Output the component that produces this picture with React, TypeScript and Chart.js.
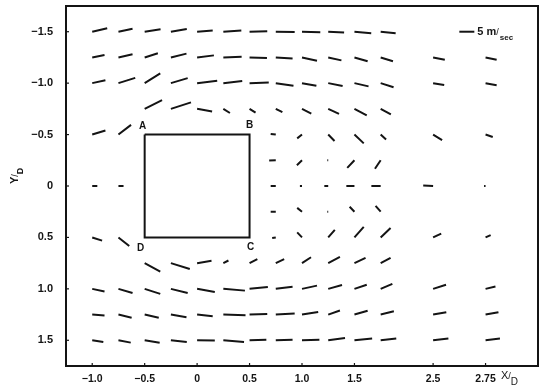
import React, { useEffect, useRef } from 'react';
import { Chart, registerables } from 'chart.js';

Chart.register(...registerables);

// Measurement stations (X/D) and rows (Y/D)
const colX = [-1.0, -0.75, -0.5, -0.25, 0, 0.25, 0.5, 0.75, 1.0, 1.25, 1.5, 1.75, 2.25, 2.75];
const rowY = [-1.5, -1.25, -1.0, -0.75, -0.5, -0.25, 0, 0.25, 0.5, 0.75, 1.0, 1.25, 1.5];

// streamwise velocity u (m/s); null = no measurement
const U: (number | null)[][] = [
  [5.0, 4.7, 5.3, 5.3, 5.2, 6.0, 5.9, 6.3, 6.1, 5.3, 5.6, 5.0, null, null],
  [4.1, 4.7, 4.4, 5.2, 5.6, 6.1, 5.8, 5.6, 5.0, 4.4, 4.4, 4.1, 3.9, 3.7],
  [4.4, 5.6, 5.2, 5.6, 6.7, 6.3, 6.4, 5.9, 4.8, 4.8, 4.7, 4.3, 3.7, 3.7],
  [null, null, 5.8, 6.7, 5.0, 2.2, 2.0, 2.2, 3.1, 3.6, 4.1, 3.4, null, null],
  [4.4, 4.2, null, null, null, null, null, -1.7, -1.6, 2.1, 3.1, 1.8, 3.0, 2.4],
  [null, null, null, null, null, null, null, -2.2, -1.7, -0.3, -2.4, -1.9, null, null],
  [1.7, 1.7, null, null, null, null, null, -1.7, -0.7, -1.3, -2.7, -3.1, -3.3, -0.5],
  [null, null, null, null, null, null, null, -1.7, -1.6, -0.3, -1.6, -1.7, null, null],
  [3.3, 3.6, null, null, null, null, null, -1.2, -1.6, 2.2, 3.1, 3.3, 2.7, 1.7],
  [null, null, 5.2, 6.3, 4.8, 1.7, 2.6, 2.8, 3.0, 3.9, 3.7, 3.3, null, null],
  [4.1, 4.7, 5.2, 5.6, 5.9, 7.2, 6.1, 5.6, 5.0, 4.6, 4.1, 3.9, 4.3, 3.3],
  [4.1, 4.4, 4.7, 5.2, 5.2, 7.4, 5.9, 6.3, 5.4, 3.9, 4.4, 4.4, 4.4, 4.3],
  [3.7, 4.1, 5.0, 5.3, 5.9, 6.9, 5.6, 5.6, 5.8, 5.6, 5.9, 5.2, 5.1, 4.8],
];

// transverse velocity v (m/s, positive toward +Y/D); null = no measurement
const V: (number | null)[][] = [
  [-1.2, -1.0, -0.8, -0.9, -0.4, -0.4, -0.2, 0.1, 0.2, 0.3, 0.5, 0.5, null, null],
  [-0.8, -1.1, -1.4, -1.3, -0.7, -0.2, 0.2, 0.4, 1.1, 1.0, 1.3, 1.3, 0.8, 0.8],
  [-1.0, -1.8, -3.3, -1.7, -0.8, -0.7, -0.2, 0.9, 0.9, 1.0, 1.1, 1.4, 0.6, 0.7],
  [null, null, -3.0, -2.2, 0.9, 1.4, 1.3, 1.1, 1.6, 1.7, 2.2, 1.9, null, null],
  [-1.4, -3.3, null, null, null, null, null, -0.2, 1.3, 2.2, 3.0, 1.7, 1.9, 0.8],
  [null, null, null, null, null, null, null, 0.1, 1.7, 0.0, 2.6, 2.9, null, null],
  [0.0, 0.0, null, null, null, null, null, 0.0, 0.0, 0.0, 0.0, 0.0, -0.2, 0.0],
  [null, null, null, null, null, null, null, 0.0, -1.3, 0.0, -1.7, -2.0, null, null],
  [1.1, 2.9, null, null, null, null, null, 0.2, -1.7, -2.6, -3.6, -3.2, -1.3, -0.8],
  [null, null, 2.9, 2.0, -0.8, -0.9, -1.4, -1.4, -2.0, -2.1, -1.8, -1.8, null, null],
  [0.9, 1.4, 1.7, 1.4, 1.1, 0.6, -0.6, -0.7, -1.1, -1.3, -1.4, -1.7, -1.4, -0.8],
  [0.3, 1.1, 1.1, 0.9, 0.6, 0.2, -0.2, -0.4, -0.9, -1.4, -1.3, -1.1, -0.8, -0.8],
  [0.6, 0.8, 0.8, 0.6, 0.1, 0.6, -0.2, -0.2, -0.2, -0.8, -0.6, -0.6, -0.6, -0.6],
];

const xTickValues = [-1.0, -0.5, 0, 0.5, 1.0, 1.5, 2.25, 2.75];
const xTickLabels = ['\u22121.0', '\u22120.5', '0', '0.5', '1.0', '1.5', '2.5', '2.75'];
const yTickValues = [-1.5, -1.0, -0.5, 0, 0.5, 1.0, 1.5];
const yTickLabels = ['\u22121.5', '\u22121.0', '\u22120.5', '0', '0.5', '1.0', '1.5'];

// square body corners
const bodyX = [-0.5, 0.5, 0.5, -0.5, -0.5];
const bodyY = [-0.5, -0.5, 0.5, 0.5, -0.5];
const cornerLabels = ['A', 'B', 'C', 'D'];

// reference vector
const refSpeed = 5; // m/s
const refTailX = 2.5;
const refTailY = -1.5;

const VEL_SCALE = 0.0286; // X/D per m/s

const FONT = '"Liberation Sans", Arial, Helvetica, sans-serif';
const INK = '#141414';

export default function App() {
  const canvasRef = useRef<HTMLCanvasElement | null>(null);

  useEffect(() => {
    document.body.style.margin = '0';
    const canvas = canvasRef.current;
    if (!canvas) return;

    const vecPts: any[] = [];
    rowY.forEach((y, r) => {
      colX.forEach((x, c) => {
        const u = U[r][c];
        const v = V[r][c];
        if (u == null || v == null) return;
        vecPts.push({ x, y });
        vecPts.push({ x: x + u * VEL_SCALE, y: y + v * VEL_SCALE });
        vecPts.push({ x, y: null });
      });
    });

    const boxPts = bodyX.map((x, i) => ({ x, y: bodyY[i] }));
    const refPts = [
      { x: refTailX, y: refTailY },
      { x: refTailX + refSpeed * VEL_SCALE, y: refTailY },
    ];

    const overlay = {
      id: 'overlay',
      afterDraw(chart: any) {
        const ctx = chart.ctx as CanvasRenderingContext2D;
        const ca = chart.chartArea;
        const xs = chart.scales.x;
        const ys = chart.scales.y;
        ctx.save();
        ctx.strokeStyle = INK;
        ctx.fillStyle = INK;
        // frame
        ctx.lineWidth = 2;
        ctx.strokeRect(ca.left, ca.top, ca.right - ca.left, ca.bottom - ca.top);
        // small inward ticks
        ctx.lineWidth = 1.2;
        xTickValues.forEach((v) => {
          const px = xs.getPixelForValue(v);
          ctx.beginPath();
          ctx.moveTo(px, ca.bottom);
          ctx.lineTo(px, ca.bottom - 3);
          ctx.stroke();
        });
        yTickValues.forEach((v) => {
          const py = ys.getPixelForValue(v);
          ctx.beginPath();
          ctx.moveTo(ca.left, py);
          ctx.lineTo(ca.left + 3, py);
          ctx.stroke();
        });
        // corner labels
        ctx.font = `bold 10px ${FONT}`;
        ctx.textAlign = 'center';
        ctx.textBaseline = 'middle';
        const offs = [
          [-2, -8],
          [0, -9],
          [1, 10],
          [-4, 11],
        ];
        cornerLabels.forEach((lab, i) => {
          const px = xs.getPixelForValue(bodyX[i]) + offs[i][0];
          const py = ys.getPixelForValue(bodyY[i]) + offs[i][1];
          ctx.fillText(lab, px, py);
        });
        // reference label "5 m/sec"
        const rx = xs.getPixelForValue(refTailX + refSpeed * VEL_SCALE) + 3;
        const ry = ys.getPixelForValue(refTailY);
        ctx.textAlign = 'left';
        ctx.textBaseline = 'alphabetic';
        ctx.font = `bold 11px ${FONT}`;
        const t1 = `${refSpeed} m`;
        ctx.fillText(t1, rx, ry + 3);
        let w = ctx.measureText(t1).width;
        ctx.font = `9px ${FONT}`;
        ctx.fillText('/', rx + w, ry + 3);
        w += ctx.measureText('/').width + 1;
        ctx.font = `bold 8px ${FONT}`;
        ctx.fillText('sec', rx + w, ry + 8);
        // x axis title
        ctx.font = `11px ${FONT}`;
        const xtX = ca.right - 37;
        const xtY = ca.bottom + 13;
        ctx.fillText('X', xtX, xtY);
        let xw = ctx.measureText('X').width;
        ctx.font = `9px ${FONT}`;
        ctx.fillText('/', xtX + xw, xtY);
        xw += ctx.measureText('/').width;
        ctx.font = `10px ${FONT}`;
        ctx.fillText('D', xtX + xw, xtY + 6);
        // y axis title (rotated)
        ctx.save();
        ctx.translate(18, 184);
        ctx.rotate(-Math.PI / 2);
        ctx.font = `bold 11px ${FONT}`;
        ctx.fillText('Y', 0, 0);
        let yw = ctx.measureText('Y').width;
        ctx.font = `9px ${FONT}`;
        ctx.fillText('/', yw, 0);
        yw += ctx.measureText('/').width;
        ctx.font = `bold 9px ${FONT}`;
        ctx.fillText('D', yw, 5);
        ctx.restore();
        ctx.restore();
      },
    };

    const tickFont = { family: FONT, size: 11, weight: 'bold' as const };

    const chart = new Chart(canvas, {
      type: 'line',
      data: {
        datasets: [
          {
            data: vecPts,
            borderColor: INK,
            borderWidth: 2,
            pointRadius: 0,
            spanGaps: false,
            tension: 0,
            borderCapStyle: 'butt',
          },
          {
            data: boxPts,
            borderColor: INK,
            borderWidth: 2,
            pointRadius: 0,
            tension: 0,
          },
          {
            data: refPts,
            borderColor: INK,
            borderWidth: 2,
            pointRadius: 0,
            tension: 0,
          },
        ] as any,
      },
      options: {
        animation: false,
        responsive: false,
        events: [],
        layout: { padding: { top: 6, right: 5, left: 0, bottom: 0 } },
        plugins: {
          legend: { display: false },
          tooltip: { enabled: false },
          title: { display: false },
        },
        scales: {
          x: {
            type: 'linear',
            min: -1.25,
            max: 3.25,
            grid: { display: false, drawTicks: false },
            border: { display: false },
            afterBuildTicks: (s: any) => {
              s.ticks = xTickValues.map((v) => ({ value: v }));
            },
            afterFit: (s: any) => {
              s.height = 22;
              s.paddingLeft = 0;
              s.paddingRight = 0;
            },
            ticks: {
              autoSkip: false,
              maxRotation: 0,
              padding: 7,
              color: INK,
              font: { family: FONT, size: 10.5, weight: 'bold' },
              callback: (_v: any, i: number) => xTickLabels[i],
            },
          },
          y: {
            type: 'linear',
            reverse: true,
            min: -1.75,
            max: 1.75,
            grid: { display: false, drawTicks: false },
            border: { display: false },
            afterBuildTicks: (s: any) => {
              s.ticks = yTickValues.map((v) => ({ value: v }));
            },
            afterFit: (s: any) => {
              s.width = 66;
              s.paddingTop = 0;
              s.paddingBottom = 0;
            },
            ticks: {
              autoSkip: false,
              padding: 13,
              color: INK,
              font: tickFont,
              callback: (_v: any, i: number) => yTickLabels[i],
            },
          },
        },
      } as any,
      plugins: [overlay],
    });

    return () => chart.destroy();
  }, []);

  return (
    <div style={{ width: 543, height: 388, background: '#fff' }}>
      <canvas ref={canvasRef} width={543} height={388} style={{ display: 'block' }} />
    </div>
  );
}
